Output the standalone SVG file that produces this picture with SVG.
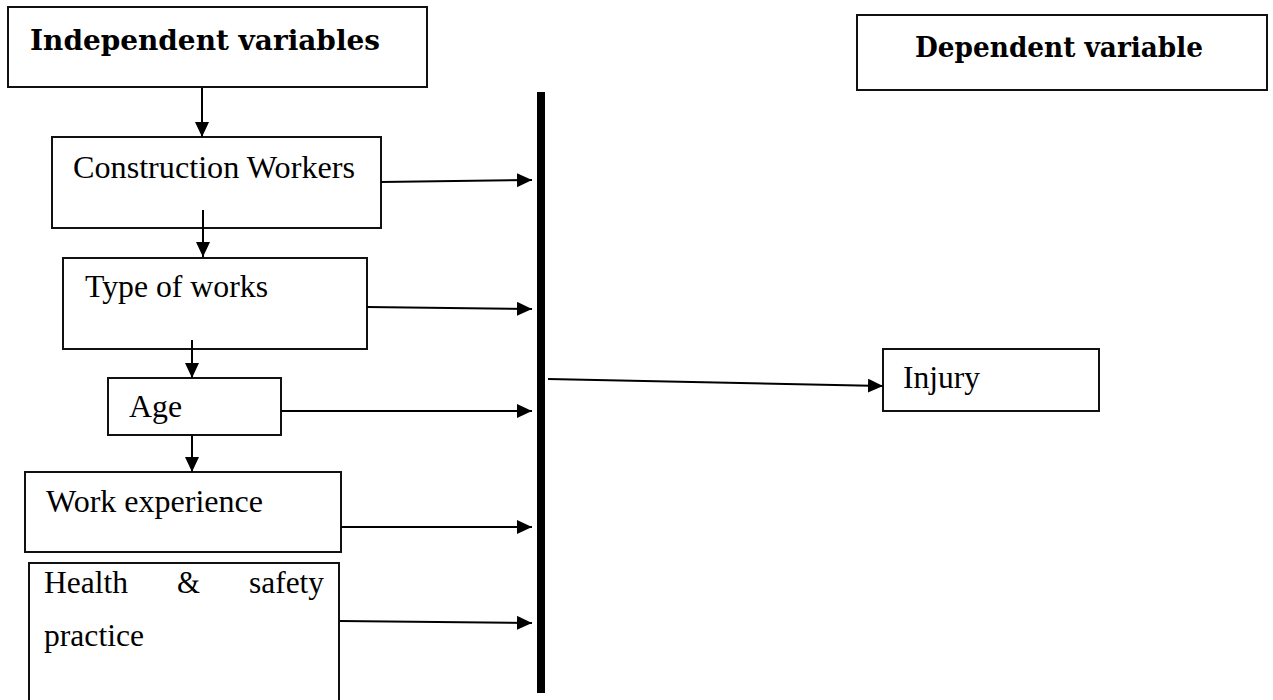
<svg xmlns="http://www.w3.org/2000/svg" width="1273" height="700" viewBox="0 0 1273 700">
<style>
.box{fill:#fff;stroke:#111;stroke-width:2}
.hdr{font-family:"DejaVu Serif","Liberation Serif",serif;font-weight:bold;font-size:28px;fill:#000}
.lbl{font-family:"Liberation Serif","Times New Roman",serif;font-size:32px;fill:#000}
.con{stroke:#000;stroke-width:2;fill:none;marker-end:url(#ah)}
</style>
<defs>
<marker id="ah" markerUnits="userSpaceOnUse" markerWidth="16" markerHeight="14" refX="15" refY="7" orient="auto">
<path d="M0,0 L15,7 L0,14 Z" fill="#000"/>
</marker>
</defs>
<rect width="1273" height="700" fill="#fff"/>
<g id="independent">
<rect class="box" x="8" y="7" width="419" height="80"/>
<text class="hdr" x="30" y="50" textLength="350" lengthAdjust="spacingAndGlyphs">Independent variables</text>
</g>
<g id="dependent">
<rect class="box" x="857" y="15" width="410" height="75"/>
<text class="hdr" x="915" y="57" textLength="288" lengthAdjust="spacingAndGlyphs">Dependent variable</text>
</g>
<g id="construction-workers">
<rect class="box" x="52" y="137" width="329" height="91"/>
<text class="lbl" x="73" y="178" textLength="282" lengthAdjust="spacingAndGlyphs">Construction Workers</text>
</g>
<g id="type-of-works">
<rect class="box" x="63" y="258" width="304" height="91"/>
<text class="lbl" x="85" y="297" textLength="183" lengthAdjust="spacingAndGlyphs">Type of works</text>
</g>
<g id="age">
<rect class="box" x="108" y="378" width="173" height="57"/>
<text class="lbl" x="129" y="417" textLength="53" lengthAdjust="spacingAndGlyphs">Age</text>
</g>
<g id="work-experience">
<rect class="box" x="25" y="472" width="316" height="80"/>
<text class="lbl" x="46" y="512" textLength="217" lengthAdjust="spacingAndGlyphs">Work experience</text>
</g>
<g id="health-safety">
<rect class="box" x="29" y="563" width="310" height="160"/>
<text class="lbl" y="593"><tspan x="44" textLength="84" lengthAdjust="spacingAndGlyphs">Health</tspan> <tspan x="177" textLength="23" lengthAdjust="spacingAndGlyphs">&amp;</tspan> <tspan x="249" textLength="75" lengthAdjust="spacingAndGlyphs">safety</tspan></text>
<text class="lbl" x="44" y="646" textLength="100" lengthAdjust="spacingAndGlyphs">practice</text>
</g>
<g id="bar">
<rect x="537" y="92" width="8" height="601" fill="#000"/>
</g>
<g id="injury">
<rect class="box" x="883" y="349" width="216" height="62"/>
<text class="lbl" x="903" y="388" textLength="77" lengthAdjust="spacingAndGlyphs">Injury</text>
</g>
<g id="connectors">
<line class="con" x1="202" y1="88" x2="202" y2="137"/>
<line class="con" x1="381" y1="182" x2="532" y2="180"/>
<line class="con" x1="203" y1="210" x2="203" y2="257"/>
<line class="con" x1="367" y1="307" x2="532" y2="309"/>
<line class="con" x1="192" y1="340" x2="192" y2="378"/>
<line class="con" x1="281" y1="411" x2="532" y2="411"/>
<line class="con" x1="192" y1="435" x2="192" y2="472"/>
<line class="con" x1="341" y1="527" x2="532" y2="527"/>
<line class="con" x1="340" y1="621" x2="532" y2="623"/>
<line class="con" x1="548" y1="379" x2="883" y2="386"/>
</g>
</svg>
